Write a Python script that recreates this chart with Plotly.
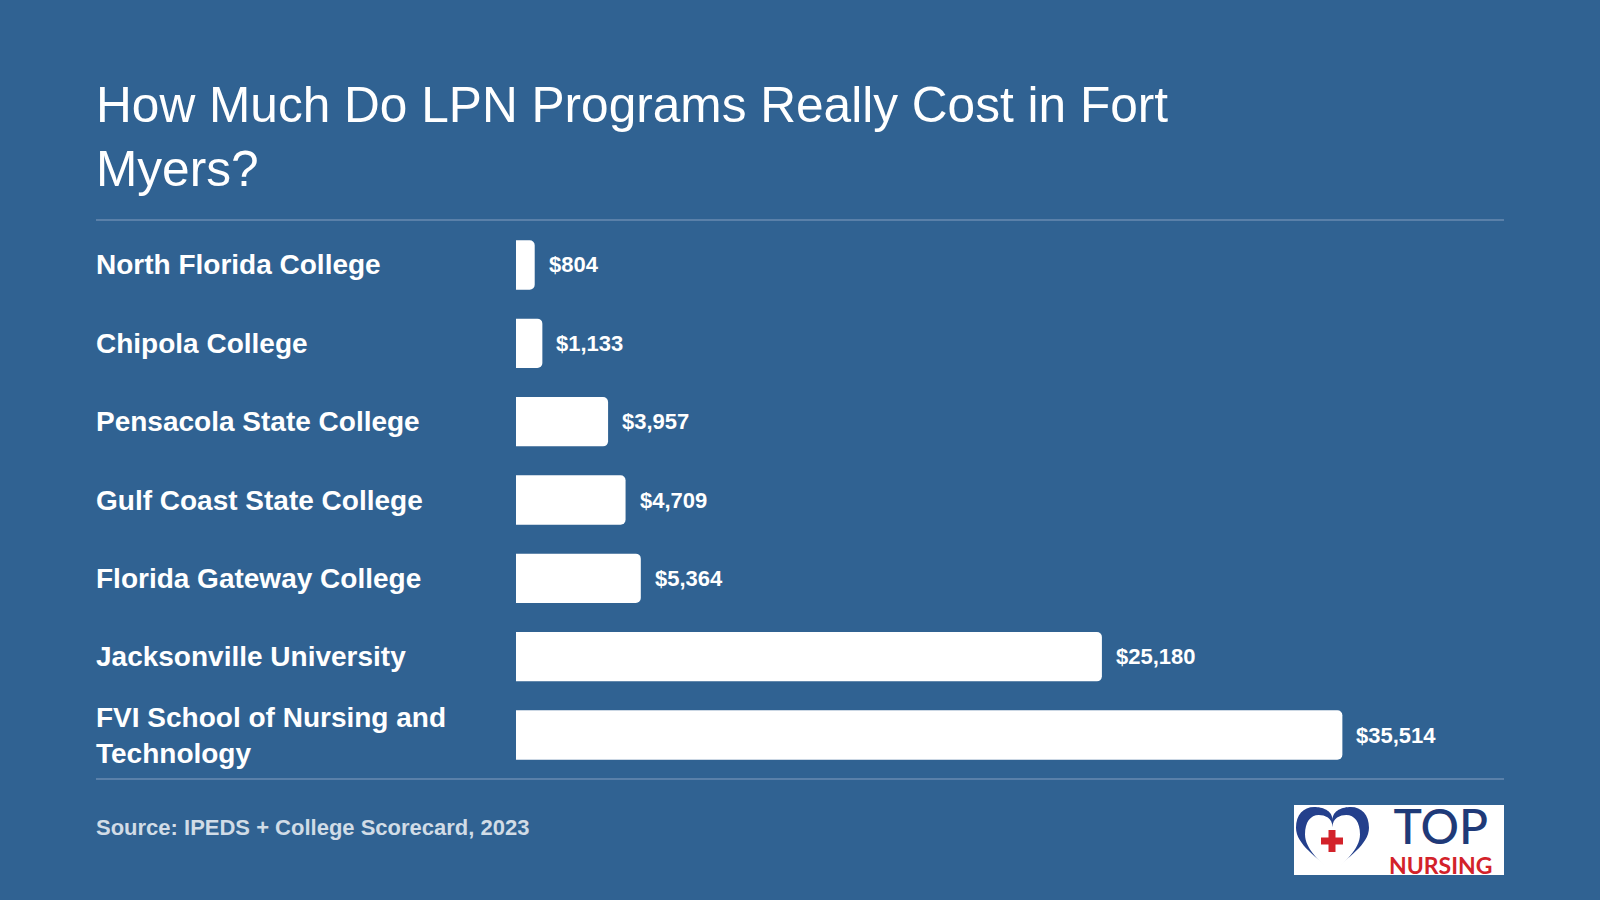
import plotly.graph_objects as go

# ---- data ----
schools = [
    "North Florida College",
    "Chipola College",
    "Pensacola State College",
    "Gulf Coast State College",
    "Florida Gateway College",
    "Jacksonville University",
    "FVI School of Nursing and Technology",
]
school_labels = [
    "North Florida College",
    "Chipola College",
    "Pensacola State College",
    "Gulf Coast State College",
    "Florida Gateway College",
    "Jacksonville University",
    "FVI School of Nursing and<br>Technology",
]
costs = [804, 1133, 3957, 4709, 5364, 25180, 35514]
title_text = "How Much Do LPN Programs Really Cost in Fort<br>Myers?"
source_text = "Source: IPEDS + College Scorecard, 2023"

W, H = 1600, 900
BG = "#306292"
FONT = "Liberation Sans, Arial, sans-serif"


def px(x):
    return x / W


def py(y):
    return 1 - y / H


fig = go.Figure()
fig.add_trace(go.Bar(
    y=schools, x=costs, orientation="h",
    marker=dict(color="white", line=dict(width=0)),
    width=0.63, hoverinfo="skip", showlegend=False,
))

annotations = []
# title
annotations.append(dict(
    text=title_text, x=px(94), y=py(75), xref="paper", yref="paper",
    xanchor="left", yanchor="top", align="left", showarrow=False,
    font=dict(family=FONT, size=49.6, color="white"),
))
# category labels
for s, lab in zip(schools, school_labels):
    annotations.append(dict(
        text=lab, x=px(94), y=s, xref="paper", yref="y",
        xanchor="left", yanchor="middle", align="left", showarrow=False,
        font=dict(family=FONT, size=28, color="white", weight="bold"),
    ))
# value labels
for s, v in zip(schools, costs):
    annotations.append(dict(
        text=f"${v:,}", x=v, y=s, xref="x", yref="y",
        xanchor="left", yanchor="middle", showarrow=False, xshift=12,
        font=dict(family=FONT, size=22, color="white", weight="bold"),
    ))
# source
annotations.append(dict(
    text=source_text, x=px(94), y=py(827), xref="paper", yref="paper",
    xanchor="left", yanchor="middle", showarrow=False,
    font=dict(family=FONT, size=22, color="rgba(255,255,255,0.78)", weight="bold"),
))
# logo text (one block: TOP / NURSING)
annotations.append(dict(
    text=('<span style="font-size:48px;color:#1f3a78;font-weight:500">TOP</span><br>'
          'NURSING'),
    x=px(1440), y=py(838), xref="paper", yref="paper",
    xanchor="center", yanchor="middle", align="center", showarrow=False,
    font=dict(family="Lato, sans-serif", size=23, color="#d3222a", weight="bold"),
))

shapes = []
LINE_COL = "#5a80a9"
for yy in (220, 779):
    shapes.append(dict(type="line", xref="paper", yref="paper",
                       x0=px(96), x1=px(1504), y0=py(yy), y1=py(yy),
                       line=dict(color=LINE_COL, width=2)))
# logo background
shapes.append(dict(type="rect", xref="paper", yref="paper",
                   x0=px(1294), x1=px(1504), y0=py(875), y1=py(805),
                   fillcolor="white", line=dict(width=0)))


def heart_path(x0, y0, w, h):
    pts = [
        ("M", [(0.5, 0.2)]),
        ("C", [(0.5, 0.05), (0.36, 0.0), (0.25, 0.0)]),
        ("C", [(0.1, 0.0), (0.0, 0.12), (0.0, 0.32)]),
        ("C", [(0.0, 0.58), (0.3, 0.78), (0.5, 1.0)]),
        ("C", [(0.7, 0.78), (1.0, 0.58), (1.0, 0.32)]),
        ("C", [(1.0, 0.12), (0.9, 0.0), (0.75, 0.0)]),
        ("C", [(0.64, 0.0), (0.5, 0.05), (0.5, 0.2)]),
    ]
    out = []
    for cmd, ps in pts:
        coords = " ".join(f"{px(x0 + a * w):.5f},{py(y0 + b * h):.5f}" for a, b in ps)
        out.append(f"{cmd} {coords}")
    return " ".join(out) + " Z"


shapes.append(dict(type="path", xref="paper", yref="paper",
                   path=heart_path(1296, 807, 73, 65),
                   fillcolor="#24408c", line=dict(width=0)))
shapes.append(dict(type="path", xref="paper", yref="paper",
                   path=heart_path(1305, 815, 55, 60),
                   fillcolor="white", line=dict(width=0)))
# cross
shapes.append(dict(type="rect", xref="paper", yref="paper",
                   x0=px(1321), x1=px(1343), y0=py(844.5), y1=py(837.5),
                   fillcolor="#d3222a", line=dict(width=0)))
shapes.append(dict(type="rect", xref="paper", yref="paper",
                   x0=px(1328.5), x1=px(1335.5), y0=py(852), y1=py(830),
                   fillcolor="#d3222a", line=dict(width=0)))

fig.update_layout(
    width=W, height=H,
    margin=dict(l=0, r=0, t=0, b=0),
    paper_bgcolor=BG, plot_bgcolor=BG,
    barcornerradius=5,
    xaxis=dict(domain=[px(516), px(1504)], range=[0, 42460],
               showgrid=False, zeroline=False, showticklabels=False,
               showline=False, ticks=""),
    yaxis=dict(domain=[py(774.2), py(225.8)], range=[6.5, -0.5],
               type="category", categoryorder="array", categoryarray=schools,
               showgrid=False, zeroline=False, showticklabels=False,
               showline=False, ticks=""),
    annotations=annotations,
    shapes=shapes,
    font=dict(family=FONT, color="white"),
)

fig.write_html("out.html", config={"displayModeBar": False})
